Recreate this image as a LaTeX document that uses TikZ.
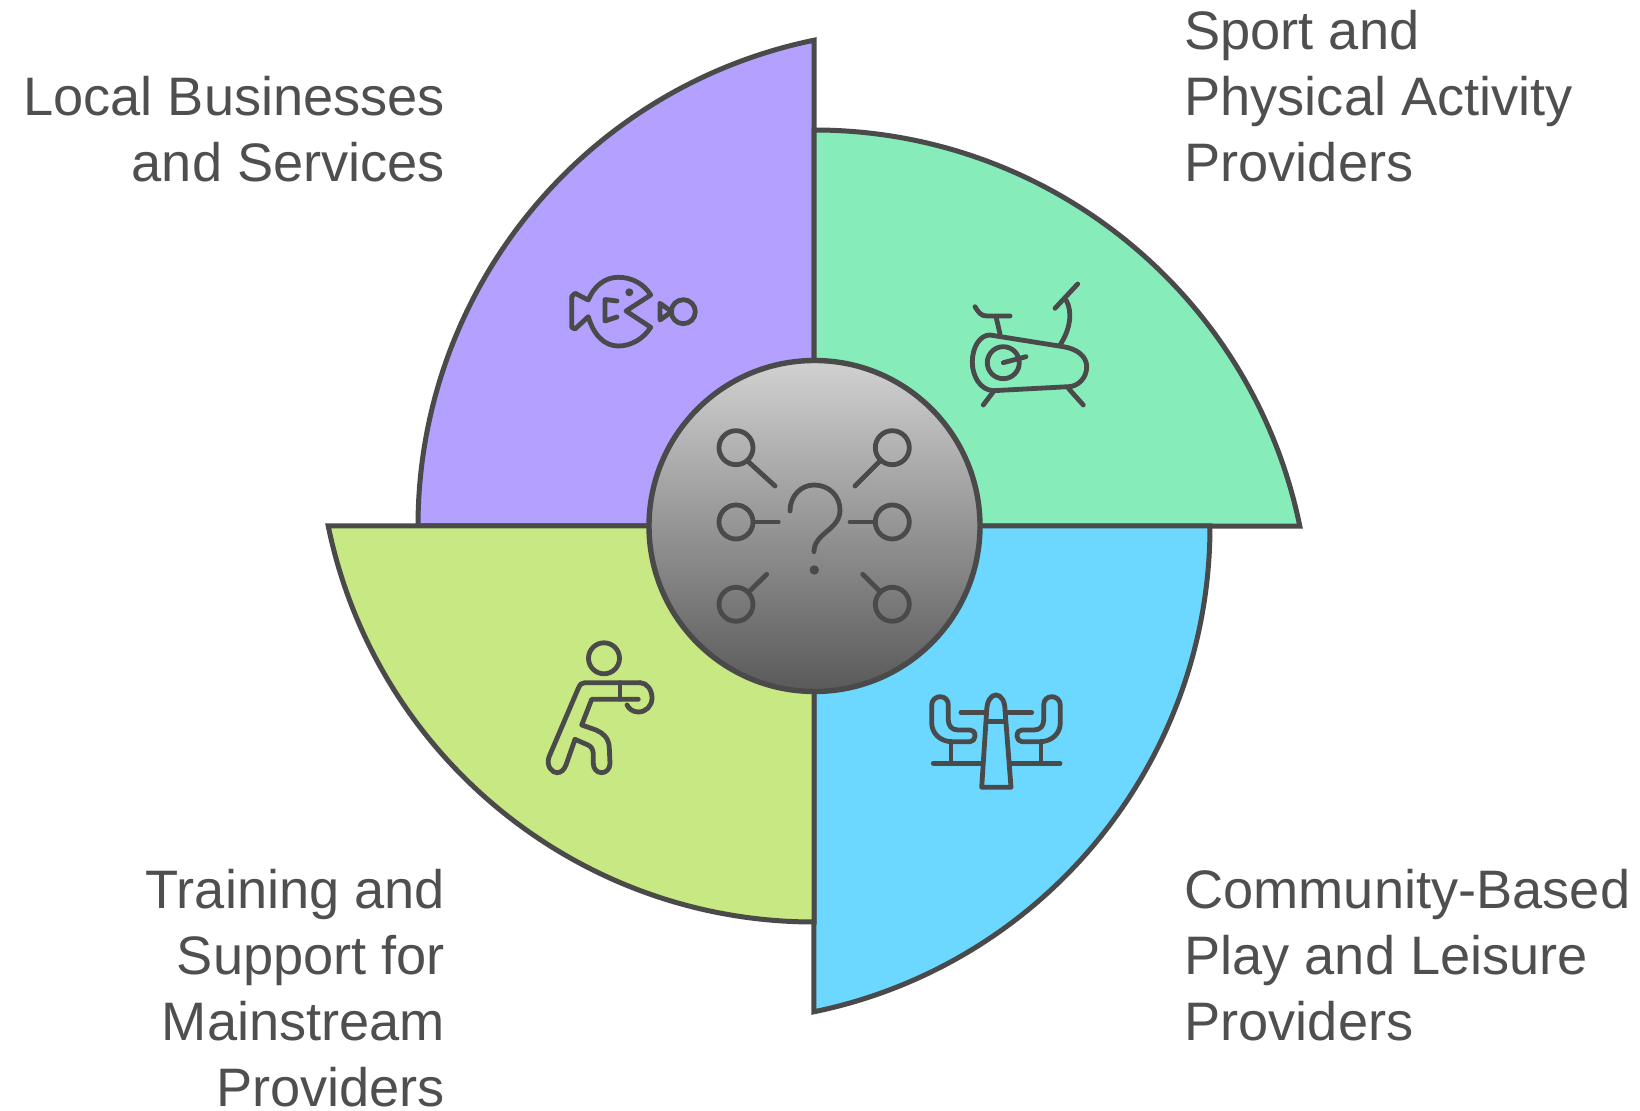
\documentclass[tikz,border=0pt]{standalone}
\usepackage{fontspec}
\setmainfont{Liberation Sans}
\definecolor{ink}{HTML}{4A4A4A}
\definecolor{txt}{HTML}{4F4F4F}
\definecolor{pur}{HTML}{B3A0FF}
\definecolor{grn}{HTML}{86ECBA}
\definecolor{blu}{HTML}{6CD7FF}
\definecolor{lim}{HTML}{C7E882}
\tikzset{
  wedge/.style={draw=ink,line width=2.5pt,line join=miter},
  icon/.style={draw=ink,line width=2.4pt,line cap=round,line join=round},
  lab/.style={inner sep=0pt,text=txt,font=\fontsize{27.1}{33}\selectfont},
  hub/.style={circle,minimum size=165.5pt,inner sep=0pt,draw=ink,line width=2.7pt,top color=black!18,bottom color=black!65}
}
\begin{document}
\begin{tikzpicture}[x=0.5pt,y=-0.5pt]
\useasboundingbox (0,0) rectangle (1640,1111);
% wedges
\draw[wedge,fill=pur] (814,526) -- (418,526) arc[start angle=180,end angle=258.37,radius=496] -- cycle;
\draw[wedge,fill=grn] (814,526) -- (814,130) arc[start angle=-90,end angle=-11.63,radius=496] -- cycle;
\draw[wedge,fill=blu] (814,526) -- (1210,526) arc[start angle=0,end angle=78.37,radius=496] -- cycle;
\draw[wedge,fill=lim] (814,526) -- (814,922) arc[start angle=90,end angle=168.37,radius=496] -- cycle;
\node[hub] (hubc) at (814.5,526) {};
% hub icon
\foreach \cx/\cy in {736/447.7,892.3/447.7,736/522,892.3/522,736/604.3,892.3/604.3}
  \draw[icon] (\cx,\cy) circle[radius=17];
\draw[icon] (748.3,461.7) -- (775,486);
\draw[icon] (879.3,461.7) -- (855,486);
\draw[icon] (753.3,522) -- (778.3,522);
\draw[icon] (850,522) -- (875,522);
\draw[icon] (750,590.7) -- (766.7,574.3);
\draw[icon] (879.3,590.7) -- (862.7,574.3);
\draw[icon] (790,511) .. controls (790,496) and (801,485) .. (814,485)
  .. controls (829,485) and (840,496) .. (840,510)
  .. controls (840,530) and (814,533) .. (814,551.7);
\fill[ink] (814.3,570) circle[radius=4.7];
% fish
\draw[icon] (650.7,295) .. controls (644,284) and (632,277.3) .. (618.3,277.3)
  .. controls (605,277.3) and (594,286) .. (588.3,300)
  -- (575,293.3) -- (571.7,296.7) -- (571.7,327.3) -- (575,329) -- (588.3,316.7)
  .. controls (594,336) and (605,346) .. (618.3,346)
  .. controls (632,346) and (644,338) .. (650.7,327.3)
  -- (626,311) -- cycle;
\fill[ink] (629.3,292.3) circle[radius=4];
\draw[icon] (617,301) -- (605,299.5) -- (605,321) -- (617,317);
\draw[icon] (683.3,311.7) circle[radius=12];
\draw[icon] (671.7,311.7) -- (660,303.3) -- (660,320) -- cycle;
% bike
\draw[icon] (1055,308.3) -- (1077.7,284);
\draw[icon] (1066,300) .. controls (1073,312) and (1070,330) .. (1060,345);
\draw[icon] (990,335) -- (1063.3,346.7)
  .. controls (1078,349) and (1086.7,357) .. (1086.7,366.7)
  .. controls (1086.7,378) and (1078,386.7) .. (1068.3,386.7)
  -- (993.3,390.7)
  .. controls (980,390) and (972.3,376) .. (972.3,362)
  .. controls (972.3,347) and (980,335) .. (990,335) -- cycle;
\draw[icon] (1003.3,362.7) circle[radius=16];
\draw[icon] (1003.3,362.7) -- (1026,356.7);
\draw[icon] (996,316.7) -- (1000,334);
\draw[icon] (975,306.7) .. controls (979,313) and (981,316) .. (987,316) -- (1010,316);
\draw[icon] (993.3,391.7) -- (983.3,405);
\draw[icon] (1068.3,388.3) -- (1083.3,405);
% boxer
\draw[icon] (604,658.3) circle[radius=15.5];
\draw[icon] (640,682.7) -- (585,682.7) .. controls (582,682.7) and (580,684) .. (578.3,688.3)
  -- (549,757) .. controls (546,766) and (552,772.7) .. (557,772.7)
  .. controls (561,772.7) and (564,770) .. (566,765)
  -- (575,739.3) -- (588,745) .. controls (592,747) and (593.3,750) .. (593.3,755)
  -- (593.3,763.3) .. controls (593.3,769) and (597,772.7) .. (601.7,772.7)
  .. controls (606,772.7) and (610,769) .. (610,763.3)
  -- (609.3,748) .. controls (609,738) and (603,733) .. (596,730)
  -- (581.7,725) -- (591.7,699.3) -- (638.3,699.3);
\draw[icon] (620,682.7) -- (620,699.3);
\draw[icon] (640,682.7) .. controls (647,682.7) and (652,690) .. (652,698)
  .. controls (652,706) and (646,712) .. (638.3,712) .. controls (633,712) and (629,709) .. (627,705);
% seesaw
\draw[icon] (933.3,763.3) -- (981.7,763.3);
\draw[icon] (1010,763.3) -- (1060,763.3);
\draw[icon] (981.7,787.3) -- (1011,787.3) -- (1005,710)
  .. controls (1005,701) and (1001,695) .. (996,695)
  .. controls (991,695) and (987,701) .. (986.7,710) -- cycle;
\draw[icon] (986.7,721.7) -- (1005,721.7);
\draw[icon] (961,712.7) -- (986,712.7);
\draw[icon] (1006,712.7) -- (1031.7,712.7);
\foreach \m in {1,-1}{
\begin{scope}[shift={(996,0)},xscale=\m]
\draw[icon] (-64.3,705) .. controls (-64.3,700) and (-60,696.7) .. (-56,696.7)
  .. controls (-51,696.7) and (-47.7,700) .. (-47.7,705)
  -- (-47.7,720) .. controls (-47.7,726) and (-44,730) .. (-38,730)
  -- (-26,730) .. controls (-23,730) and (-21,732) .. (-21,736)
  .. controls (-21,739) and (-23,741.7) .. (-26,741.7)
  -- (-44,741.7) .. controls (-56,741.7) and (-64.3,733) .. (-64.3,723) -- cycle;
\draw[icon] (-45,741.7) -- (-45,763.3);
\end{scope}}
% labels
\node[lab,anchor=north east,align=right] (t1) at (445.5,68.8) {\strut Local Businesses\\and Services};
\node[lab,anchor=north west,align=left] (t2) at (1184,2.8) {\strut Sport and\\Physical Activity\\Providers};
\node[lab,anchor=north east,align=right] (t3) at (445.5,861.8) {\strut Training and\\Support for\\Mainstream\\Providers};
\node[lab,anchor=north west,align=left] (t4) at (1184,861.8) {\strut Community-Based\\Play and Leisure\\Providers};
\end{tikzpicture}
\end{document}
